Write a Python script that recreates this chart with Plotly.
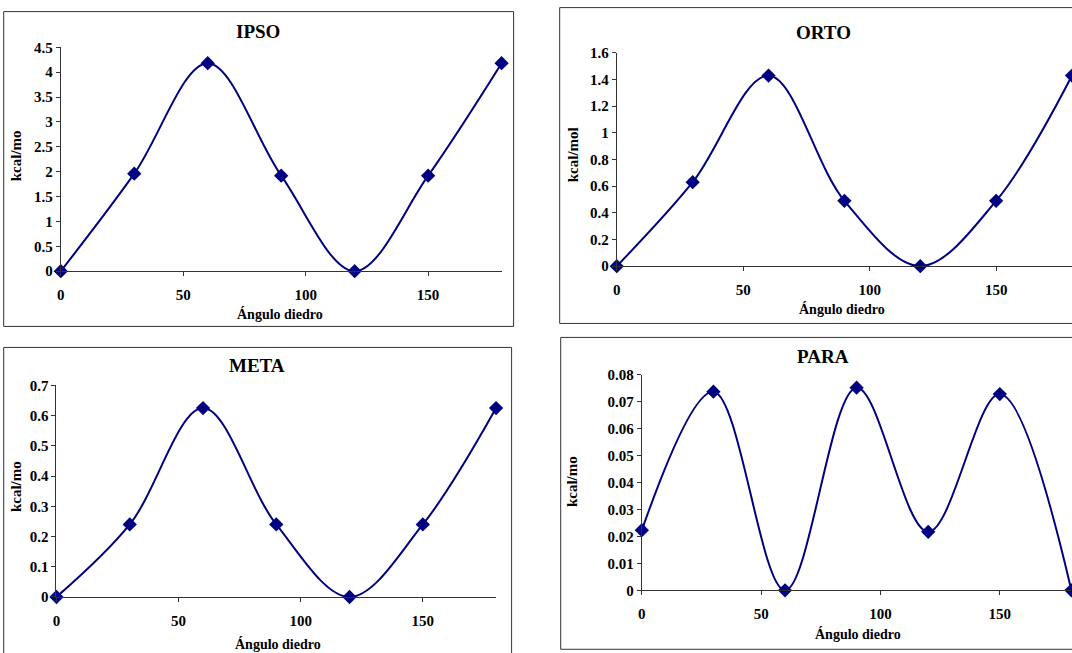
import plotly.graph_objects as go

W, H = 1072, 653

angles = [0, 30, 60, 90, 120, 150, 180]
ipso = [0, 1.96, 4.18, 1.92, 0, 1.92, 4.18]
orto = [0, 0.63, 1.43, 0.49, 0, 0.49, 1.43]
meta = [0, 0.24, 0.625, 0.24, 0, 0.24, 0.625]
para = [0.0223, 0.0737, 0, 0.0752, 0.0217, 0.0728, 0]

titles = ["IPSO", "ORTO", "META", "PARA"]
ylabels = ["kcal/mo", "kcal/mol", "kcal/mo", "kcal/mo"]
series = [ipso, orto, meta, para]
yranges = [(0, 4.5, 0.5), (0, 1.6, 0.2), (0, 0.7, 0.1), (0, 0.08, 0.01)]

# target screen-pixel layout: plot area (left, right, top, bottom), border box, title pos, xtitle pos, ytitle pos
panels = [
    dict(plot=(61, 501, 46.7, 270.7), box=(4, 513, 11, 326), title=(258, 31), xt=(280, 313.5), yt=(16, 155)),
    dict(plot=(616, 1071.6, 52.3, 265.7), box=(559, 1080, 7, 323), title=(822, 32), xt=(841, 309), yt=(572, 154)),
    dict(plot=(56.7, 495.5, 385, 596.7), box=(4, 511, 347, 670), title=(257, 365), xt=(278, 643.5), yt=(17, 486)),
    dict(plot=(641, 1069.8, 374.3, 590), box=(560, 1080, 337, 649), title=(822, 356), xt=(857, 634), yt=(572, 481)),
]

NAVY = "#000080"
FONT = "Liberation Serif"

# observed mapping of the viewer: screen = offset + scale * layout pixel
X_OFF, X_SC = 4.3, 0.9945
Y_OFF, Y_SC = 7.4, 0.976

fig = go.Figure()
shapes = []
annotations = []

def px(x):
    return ((x - X_OFF) / X_SC) / W

def py(y):
    return 1 - ((y - Y_OFF) / Y_SC) / H

for i, p in enumerate(panels):
    n = "" if i == 0 else str(i + 1)
    l, r, t, b = p["plot"]
    fig.add_trace(go.Scatter(
        x=angles, y=series[i], mode="lines+markers",
        line=dict(color=NAVY, width=2, shape="spline", smoothing=1),
        marker=dict(symbol="diamond", size=11, color=NAVY),
        xaxis="x" + n, yaxis="y" + n, cliponaxis=False, showlegend=False,
    ))
    y0, y1, dy = yranges[i]
    fig.layout["xaxis" + n] = dict(
        domain=[px(l), min(px(r), 1.0)], anchor="y" + n, range=[0, 180],
        tickvals=[0, 50, 100, 150], ticks="outside", ticklen=4, tickcolor="#333",
        showline=True, linecolor="#333", linewidth=1, showgrid=False, zeroline=False,
        tickfont=dict(family=FONT, size=15, color="black", weight="bold"),
        ticklabelstandoff=6, fixedrange=True,
    )
    fig.layout["yaxis" + n] = dict(
        domain=[max(py(b), 0.0), py(t)], anchor="x" + n, range=[y0, y1],
        dtick=dy, tick0=0, ticks="outside", ticklen=4, tickcolor="#333",
        showline=True, linecolor="#333", linewidth=1, showgrid=False, zeroline=False,
        tickfont=dict(family=FONT, size=15, color="black", weight="bold"),
        fixedrange=True,
    )
    bx0, bx1, by0, by1 = p["box"]
    shapes.append(dict(type="rect", xref="paper", yref="paper",
                       x0=px(bx0), x1=px(bx1), y0=py(by1), y1=py(by0),
                       line=dict(color="#333", width=1), layer="below"))
    tx, ty = p["title"]
    annotations.append(dict(text="<b>%s</b>" % titles[i], x=px(tx), y=py(ty), xref="paper", yref="paper",
                            showarrow=False, xanchor="center", yanchor="middle",
                            font=dict(family=FONT, size=19, color="black")))
    ax, ay = p["xt"]
    annotations.append(dict(text="<b>Ángulo diedro</b>", x=px(ax), y=py(ay), xref="paper", yref="paper",
                            showarrow=False, xanchor="center", yanchor="middle",
                            font=dict(family=FONT, size=14, color="black")))
    yx, yy = p["yt"]
    annotations.append(dict(text="<b>%s</b>" % ylabels[i], x=px(yx), y=py(yy), xref="paper", yref="paper",
                            showarrow=False, xanchor="center", yanchor="middle", textangle=-90,
                            font=dict(family=FONT, size=15, color="black")))

fig.update_layout(
    width=W, height=H, margin=dict(l=0, r=0, t=0, b=0),
    paper_bgcolor="white", plot_bgcolor="white",
    shapes=shapes, annotations=annotations,
)

fig.write_html(
    "out.html",
    config={"displayModeBar": False, "responsive": False},
    post_script="document.body.style.margin='0px';document.body.style.overflow='hidden';",
)
